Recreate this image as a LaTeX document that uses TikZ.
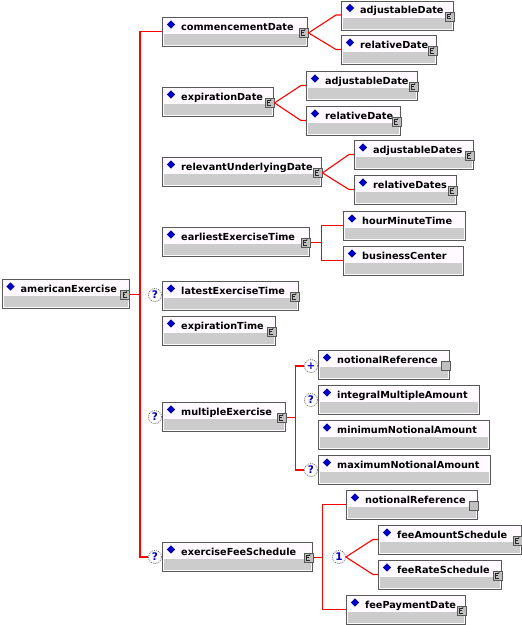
\documentclass[tikz,border=0pt]{standalone}
\usepackage{fontspec}
\newfontfamily\diagfont{DejaVu Sans Bold}
\usepackage{xcolor}
\definecolor{boxedge}{RGB}{88,88,88}
\definecolor{boxhead}{RGB}{255,250,255}
\definecolor{boxband}{RGB}{204,204,204}
\definecolor{iconfill}{RGB}{192,192,192}
\definecolor{elemblue}{RGB}{0,0,190}
\definecolor{linkred}{RGB}{255,0,0}
\usepackage{tikz}
\usetikzlibrary{positioning,shapes.geometric}

\begin{document}
\begin{tikzpicture}[x=1pt, y=-1pt,
  elembox/.style={draw=boxedge, fill=boxhead, line width=1pt, minimum height=29pt, inner sep=0pt, anchor=north west},
  elemband/.style={fill=boxband},
  elemmark/.style={diamond, fill=elemblue, minimum width=8.5pt, minimum height=8.5pt, inner sep=0pt},
  elemtext/.style={font=\diagfont\fontsize{9.7}{12}\selectfont, anchor=base west, inner sep=0pt},
  cicon/.style={draw=boxedge, fill=iconfill, line width=0.8pt, minimum size=9pt, inner sep=0pt, anchor=north east},
  cglyph/.style={draw=black!85, line width=0.7pt},
  optmark/.style={circle, draw=gray!90!black, line width=0.8pt, dash pattern=on 1pt off 1pt, fill=white, minimum size=13pt, inner sep=0pt, text=elemblue, font=\diagfont\fontsize{10.5}{10}\selectfont},
  link/.style={draw=linkred, line width=1.1pt}]
  \useasboundingbox (0,0) rectangle (522,625);
  % element boxes
  \foreach \nm/\bx/\by/\bw/\txt in {
    ae/1.5/279/127/americanExercise,
    cd/162/17/145/commencementDate,
    cdadj/341/0.5/112/adjustableDate,
    cdrel/341/35/95/relativeDate,
    ed/162/87/111/expirationDate,
    edadj/306/71/111/adjustableDate,
    edrel/306/106/94/relativeDate,
    rud/162/157/159/relevantUnderlyingDate,
    rudadj/354/140/119/adjustableDates,
    rudrel/354/175/102/relativeDates,
    eet/162/227/147/earliestExerciseTime,
    hmt/343/211/122/hourMinuteTime,
    bc/343/246/120/businessCenter,
    let/162/281/136/latestExerciseTime,
    et/162/316/113/expirationTime,
    me/162/402/123/multipleExercise,
    menr/318/350/131/notionalReference,
    imam/318/385/161/integralMultipleAmount,
    mnna/318/420/171/minimumNotionalAmount,
    mxna/318/455/172/maximumNotionalAmount,
    efs/162/542/150/exerciseFeeSchedule,
    efsnr/346/490/131/notionalReference,
    fas/378/525/143/feeAmountSchedule,
    frs/378/560/123/feeRateSchedule,
    fpd/346/595/119/feePaymentDate} {
    \node[elembox, minimum width=\bw pt] (\nm) at (\bx,\by) {};
    \fill[elemband] ([shift={(2,17)}]\nm.north west) rectangle ([shift={(-2,-2)}]\nm.south east);
    \node[elemmark] (\nm-mark) at ([shift={(9,7.5)}]\nm.north west) {};
    \node[elemtext] (\nm-label) at ([shift={(19,13)}]\nm.north west) {\txt};
    \coordinate (\nm-in) at ([yshift=-14.5pt]\nm.north west);
  }
  % complex type icons
  \foreach \nm in {ae,cd,cdadj,cdrel,ed,edadj,edrel,rud,rudadj,rudrel,eet,let,et,me,efs,fas,frs,fpd} {
    \node[cicon] (\nm-c) at ([shift={(0.5,11)}]\nm.north east) {};
    \draw[cglyph] ([shift={(6.5,2.5)}]\nm-c.north west) -- ++(-3.5,0) -- ++(0,4.5) -- ++(3.5,0);
    \draw[cglyph] ([shift={(3,4.7)}]\nm-c.north west) -- ++(2,0);
    \draw[cglyph] ([shift={(5.5,2.5)}]\nm-c.north west) -- ++(1,-1.2);
  }
  \foreach \nm in {menr,efsnr}
    \node[cicon] (\nm-c) at ([shift={(0.5,11)}]\nm.north east) {};
  % occurrence marks
  \node[optmark] (letq) at ([shift={(-7,14)}]let.north west) {?};
  \node[optmark] (meq) at ([shift={(-7,15)}]me.north west) {?};
  \node[optmark] (efsq) at ([shift={(-7,15)}]efs.north west) {?};
  \node[optmark] (menrq) at ([shift={(-7,16)}]menr.north west) {+};
  \node[optmark] (imamq) at ([shift={(-7,15)}]imam.north west) {?};
  \node[optmark] (mxnaq) at ([shift={(-7,15)}]mxna.north west) {?};
  \node[optmark] (choice) at ([shift={(26,15)}]efs.north east) {1};
  % connectors
  \draw[link] (ae-c.east) -- ++(10,0) coordinate (aebus);
  \draw[link] (cd-in) -| (aebus) |- (efsq.west);
  \foreach \k in {cdadj,cdrel}
    \draw[link] (cd-c.east) -- ([xshift=-5pt]\k-in) -- (\k-in);
  \foreach \k in {edadj,edrel}
    \draw[link] (ed-c.east) -- ([xshift=-5pt]\k-in) -- (\k-in);
  \foreach \k in {rudadj,rudrel}
    \draw[link] (rud-c.east) -- ([xshift=-5pt]\k-in) -- (\k-in);
  \draw[link] (eet-c.east) -- ++(11,0) coordinate (eetbus);
  \draw[link] (hmt-in) -| (eetbus) |- (bc-in);
  \draw[link] (me-c.east) -- ++(9,0) coordinate (mebus);
  \draw[link] (menrq.west) -| (mebus) |- (mxnaq.west);
  \draw[link] (efs-c.east) -- ++(9,0) coordinate (efsbus);
  \draw[link] (efsnr-in) -| (efsbus) |- (fpd-in);
  \foreach \k in {fas,frs}
    \draw[link] (choice.east) -- ([xshift=-5pt]\k-in) -- (\k-in);
\end{tikzpicture}
\end{document}
